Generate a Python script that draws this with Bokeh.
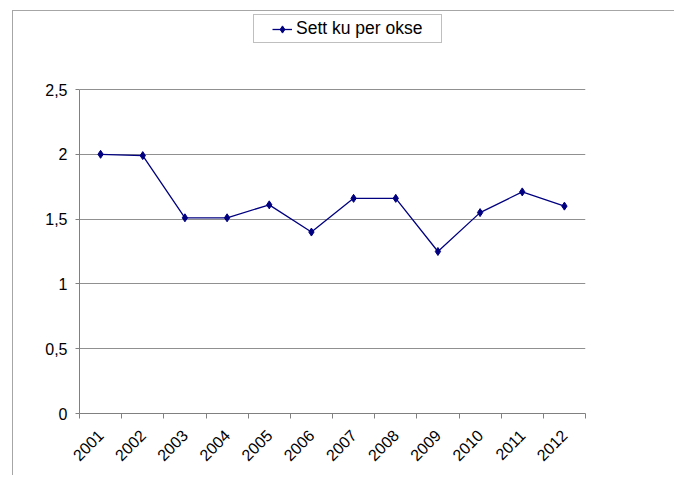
import numpy as np
from bokeh.plotting import figure
from bokeh.models import FixedTicker, Range1d, Legend, LegendItem
from bokeh.embed import file_html
from bokeh.resources import INLINE

years = [2001, 2002, 2003, 2004, 2005, 2006, 2007, 2008, 2009, 2010, 2011, 2012]
sett_ku_per_okse = [2.00, 1.99, 1.51, 1.51, 1.61, 1.40, 1.66, 1.66, 1.25, 1.55, 1.71, 1.60]
series_name = "Sett ku per okse"
y_ticks = [0, 0.5, 1, 1.5, 2, 2.5]
y_tick_labels = ["0", "0,5", "1", "1,5", "2", "2,5"]

x = list(np.arange(len(years)) + 0.5)

# frame extends above the 2.5 gridline so the legend can sit inside it
axis_px = 324.0     # pixel height of 0..2.5
frame_px = 399.0    # frame height in pixels
y_top = y_ticks[-1] * frame_px / axis_px

p = figure(width=662, height=465, output_backend="svg", toolbar_location=None,
           x_range=Range1d(0, len(years)), y_range=Range1d(0, y_top),
           min_border_left=66, min_border_top=3, min_border_right=90, min_border_bottom=63)
p.styles = {"margin-left": "12px", "margin-top": "10px",
            "border-left": "1px solid #a6a6a6", "border-top": "1px solid #a6a6a6"}
p.outline_line_color = None
p.background_fill_color = "white"
p.border_fill_color = "white"

font = "Liberation Sans"

# y axis
p.yaxis.ticker = FixedTicker(ticks=y_ticks, minor_ticks=[])
p.yaxis.bounds = (y_ticks[0], y_ticks[-1])
p.yaxis.major_label_overrides = {t: l for t, l in zip(y_ticks, y_tick_labels)}
p.yaxis.axis_line_color = "#808080"
p.yaxis.major_tick_line_color = "#808080"
p.yaxis.major_tick_out = 4
p.yaxis.major_tick_in = 0
p.yaxis.major_label_standoff = 8
p.yaxis.major_label_text_font = font
p.yaxis.major_label_text_font_size = "16px"
p.yaxis.major_label_text_color = "black"

# x axis
p.xaxis.ticker = FixedTicker(ticks=x, minor_ticks=list(range(len(years) + 1)))
p.xaxis.major_label_overrides = {xi: str(yr) for xi, yr in zip(x, years)}
p.xaxis.major_label_orientation = np.pi / 4
p.xaxis.axis_line_color = "#808080"
p.xaxis.major_tick_out = 0
p.xaxis.major_tick_in = 0
p.xaxis.minor_tick_out = 5
p.xaxis.minor_tick_in = 0
p.xaxis.minor_tick_line_color = "#808080"
p.xaxis.major_label_standoff = 14
p.xaxis.major_label_text_font = font
p.xaxis.major_label_text_font_size = "16px"
p.xaxis.major_label_text_color = "black"

p.xgrid.grid_line_color = None
p.ygrid.ticker = FixedTicker(ticks=y_ticks[1:])
p.ygrid.grid_line_color = "#909090"
p.ygrid.grid_line_width = 1

r_line = p.line(x, sett_ku_per_okse, line_color="#000080", line_width=1.3)
r_mark = p.scatter(x, sett_ku_per_okse, marker="diamond", size=8,
                   fill_color="#000080", line_color="#000080")

legend = Legend(items=[LegendItem(label=series_name, renderers=[r_line, r_mark])],
                location=(174, 370), orientation="vertical")
legend.title = " "
legend.title_location = "left"
legend.title_text_font_size = "8px"
legend.title_standoff = 6
legend.border_line_color = "#808080"
legend.border_line_width = 1
legend.padding = 3
legend.margin = 0
legend.glyph_width = 20
legend.glyph_height = 18
legend.label_standoff = 4
legend.label_text_font = font
legend.label_text_font_size = "17.5px"
legend.label_text_color = "black"
legend.label_height = 20
legend.label_width = 142
legend.background_fill_alpha = 1
p.add_layout(legend, "center")

open("out.html", "w").write(file_html(p, INLINE))
